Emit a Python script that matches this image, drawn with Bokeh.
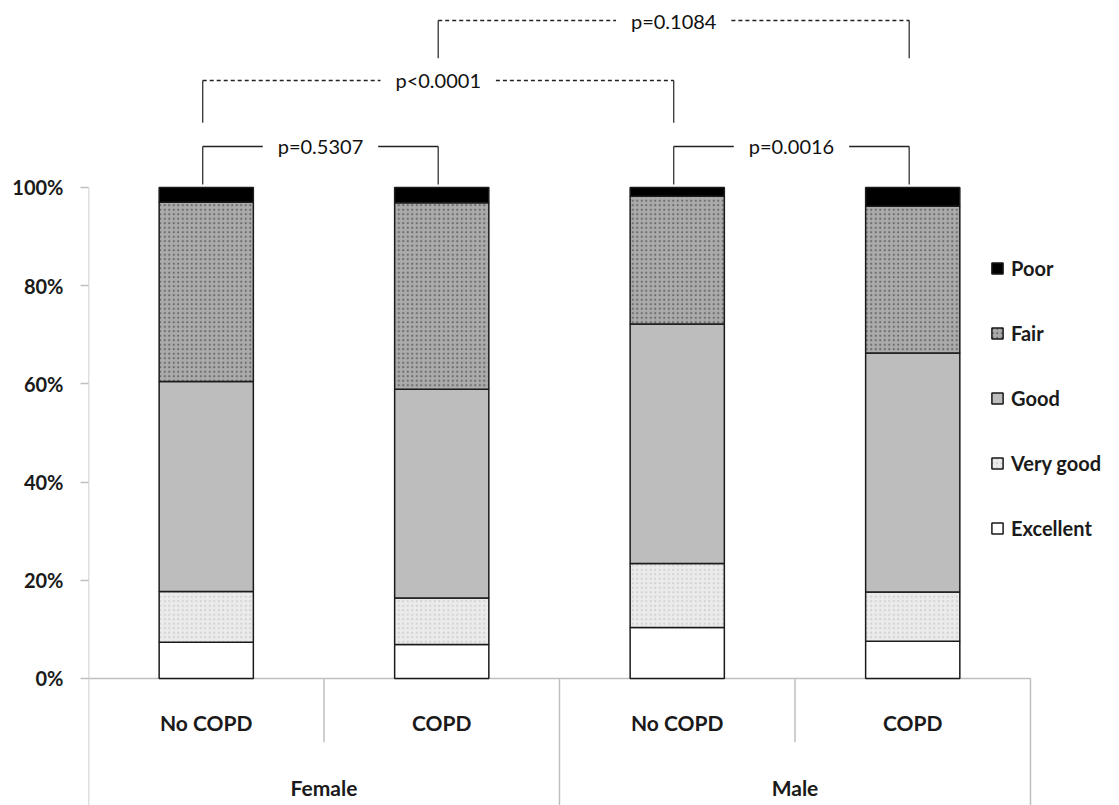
from bokeh.plotting import figure
from bokeh.models import Range1d, FixedTicker, Legend, LegendItem, ColumnDataSource
from bokeh.core.properties import value
from bokeh.embed import file_html
from bokeh.resources import INLINE

# ---------------- data ----------------
groups = ["Female", "Female", "Male", "Male"]
copd = ["No COPD", "COPD", "No COPD", "COPD"]
categories = ["Excellent", "Very good", "Good", "Fair", "Poor"]
excellent = [7.4, 6.9, 10.4, 7.6]
very_good = [10.3, 9.5, 13.0, 10.0]
good = [42.8, 42.5, 48.8, 48.7]
fair = [36.5, 38.0, 26.0, 29.9]
poor = [3.0, 3.1, 1.8, 3.8]
tick_values = [0, 20, 40, 60, 80, 100]
tick_labels = ["0%", "20%", "40%", "60%", "80%", "100%"]
# comparisons: (bar a, bar b, label)
comp_a = [0, 2, 0, 1]
comp_b = [1, 3, 2, 3]
comp_labels = ["p=0.5307", "p=0.0016", "p<0.0001", "p=0.1084"]

# ---------------- layout / style ----------------
comp_level = [108.35, 108.35, 121.8, 134.0]
comp_drop = [100.6, 100.6, 113.2, 126.3]
comp_dash = ["solid", "solid", "4 3", "4 3"]
fills = ["#ffffff", "#ebebeb", "#bdbdbd", "#ababab", "#000000"]
hatches = [" ", ".", " ", ".", " "]
hatch_cols = ["#ffffff", "#c8c8c8", "#bdbdbd", "#555555", "#000000"]
FONT = "Lato"
Y_BOTTOM, Y_TOP = -25.87, 138.08

x = [i + 0.5 for i in range(len(copd))]
src = ColumnDataSource(dict(x=x, Excellent=excellent, **{"Very good": very_good},
                            Good=good, Fair=fair, Poor=poor))

p = figure(width=1119, height=805, output_backend="svg", toolbar_location=None,
           x_range=Range1d(0, 4.378), y_range=Range1d(Y_BOTTOM, Y_TOP),
           x_axis_location=None, min_border_left=88, min_border_right=0,
           min_border_top=0, min_border_bottom=0)
p.outline_line_color = None
p.grid.visible = False
p.background_fill_color = "white"

# y axis
yax = p.yaxis[0]
yax.ticker = FixedTicker(ticks=tick_values)
yax.major_label_overrides = {v: l for v, l in zip(tick_values, tick_labels)}
yax.axis_line_color = None
yax.major_tick_line_color = "#bfbfbf"
yax.major_tick_line_width = 1.5
yax.major_tick_out = 8
yax.major_tick_in = 0
yax.minor_tick_line_color = None
yax.major_label_standoff = 17
yax.major_label_text_font = FONT
yax.major_label_text_font_style = "bold"
yax.major_label_text_font_size = "20px"
yax.major_label_text_color = "#1a1a1a"

# axis frame lines (category axis drawn manually)
n = len(copd)
p.segment(x0=[0], y0=[Y_BOTTOM], x1=[0], y1=[tick_values[-1]], line_color="#bfbfbf", line_width=1.5)
p.segment(x0=[0], y0=[0], x1=[n], y1=[0], line_color="#bfbfbf", line_width=1.5)
div_x = list(range(1, n + 1))
div_bottom = [-13.0 if (i < n and groups[i] == groups[i - 1]) else Y_BOTTOM for i in div_x]
p.segment(x0=div_x, y0=[0] * n, x1=div_x, y1=div_bottom, line_color="#bfbfbf", line_width=1.5)

# bars
renderers = p.vbar_stack(categories, x="x", width=0.4, source=src,
                         fill_color=fills, line_color="#1a1a1a", line_width=1.5,
                         hatch_pattern=hatches, hatch_color=hatch_cols,
                         hatch_scale=4.5, hatch_weight=1.6, hatch_alpha=0.75)

# category labels
p.text(x=x, y=[-9.0] * n, text=copd, text_font=value(FONT), text_font_style="bold",
       text_font_size="21px", text_align="center", text_baseline="middle", text_color="#1a1a1a")
ug = list(dict.fromkeys(groups))
gx = [sum(xx for xx, g in zip(x, groups) if g == G) / groups.count(G) for G in ug]
p.text(x=gx, y=[-22.2] * len(ug), text=ug, text_font=value(FONT), text_font_style="bold",
       text_font_size="21px", text_align="center", text_baseline="middle", text_color="#1a1a1a")

# significance brackets
off = -0.015
gap = 0.245
for a, b, lab, lev, drop, dash in zip(comp_a, comp_b, comp_labels, comp_level, comp_drop, comp_dash):
    xl = x[a] + off
    xr = x[b] + off
    mid = (xl + xr) / 2
    p.segment(x0=[xl, xr], y0=[drop, drop], x1=[xl, xr], y1=[lev, lev],
              line_color="#333333", line_width=1.3)
    p.segment(x0=[xl, mid + gap], y0=[lev, lev], x1=[mid - gap, xr], y1=[lev, lev],
              line_color="#222222", line_width=1.4, line_dash=dash)
    p.text(x=[mid], y=[lev], text=[lab], text_font=value(FONT), text_font_size="20px",
           text_align="center", text_baseline="middle", text_color="#111111")

# legend
items = [LegendItem(label=c, renderers=[r]) for c, r in zip(categories, renderers)][::-1]
legend = Legend(items=items, location=(902, 265), orientation="vertical",
                padding=0, margin=0, spacing=41, label_height=24,
                glyph_width=14, glyph_height=14, label_standoff=7,
                border_line_color=None, background_fill_alpha=0,
                label_text_font=FONT, label_text_font_style="bold",
                label_text_font_size="20px", label_text_color="#1a1a1a")
p.add_layout(legend)

open("out.html", "w").write(file_html(p, INLINE))
